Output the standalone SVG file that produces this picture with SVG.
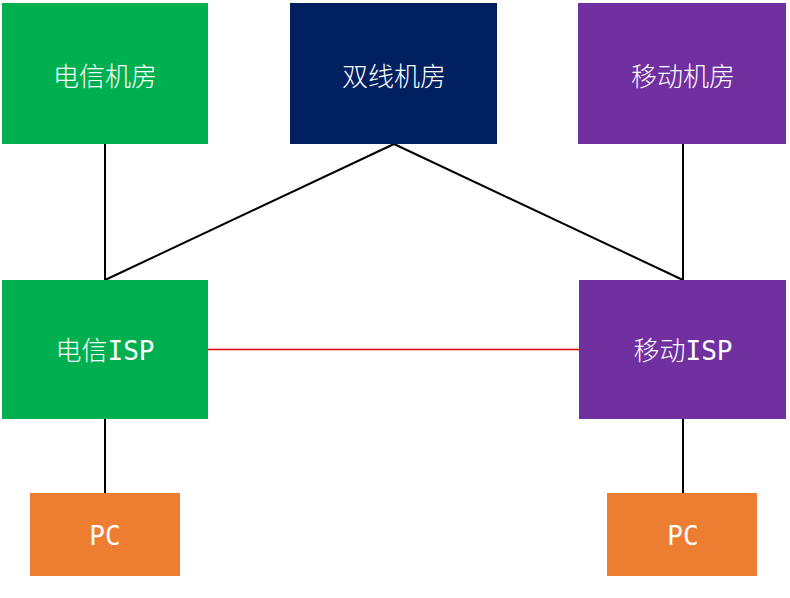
<svg xmlns="http://www.w3.org/2000/svg" width="790" height="598" viewBox="0 0 790 598">
<style>
.t{font-family:"DejaVu Sans Mono","Noto Sans CJK SC",monospace;font-size:26px;font-weight:300;fill:#fff;text-anchor:middle;dominant-baseline:central}
.c{stroke:#000;stroke-width:2;fill:none}
</style>
<rect width="790" height="598" fill="#fff"/>
<g id="connectors">
<line class="c" x1="105" y1="144" x2="105" y2="280"/>
<line class="c" x1="394" y1="144" x2="105" y2="280"/>
<line class="c" x1="394" y1="144" x2="683" y2="280"/>
<line class="c" x1="683" y1="144" x2="683" y2="280"/>
<line x1="208" y1="349.5" x2="579" y2="349.5" stroke="#e00000" stroke-width="1.5"/>
<line class="c" x1="105" y1="419" x2="105" y2="493"/>
<line class="c" x1="683" y1="419" x2="683" y2="493"/>
</g>
<g id="telecom-room"><rect x="2" y="3" width="206" height="141" fill="#00B050"/><text class="t" x="105" y="77">电信机房</text></g>
<g id="dual-room"><rect x="290" y="3" width="207" height="141" fill="#002060"/><text class="t" x="394" y="77">双线机房</text></g>
<g id="mobile-room"><rect x="578" y="3" width="208" height="141" fill="#7030A0"/><text class="t" x="683" y="77">移动机房</text></g>
<g id="telecom-isp"><rect x="2" y="280" width="206" height="139" fill="#00B050"/><text class="t" x="105" y="351">电信ISP</text></g>
<g id="mobile-isp"><rect x="579" y="280" width="207" height="139" fill="#7030A0"/><text class="t" x="683" y="351">移动ISP</text></g>
<g id="pc-left"><rect x="30" y="493" width="150" height="83" fill="#ED7D31"/><text class="t" x="105" y="536">PC</text></g>
<g id="pc-right"><rect x="607" y="493" width="150" height="83" fill="#ED7D31"/><text class="t" x="683" y="536">PC</text></g>
</svg>
